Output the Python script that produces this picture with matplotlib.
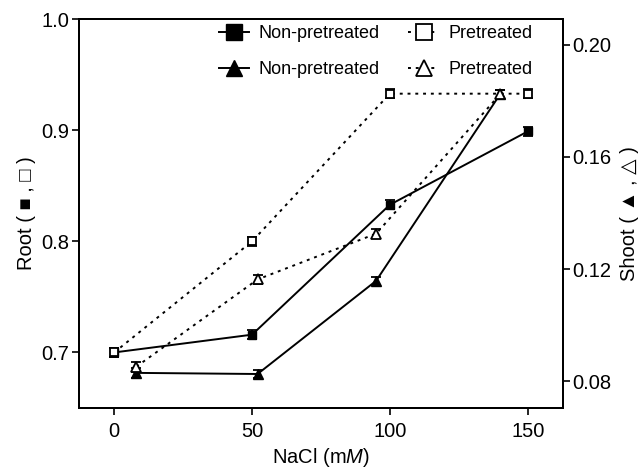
import matplotlib
matplotlib.use('Agg')
import matplotlib.pyplot as plt
from matplotlib.lines import Line2D

plt.rcParams['font.family'] = ['Liberation Sans', 'DejaVu Sans']
plt.rcParams['mathtext.fontset'] = 'custom'
plt.rcParams['mathtext.rm'] = 'Liberation Sans'
plt.rcParams['mathtext.it'] = 'Liberation Sans:italic'

# root data (left axis)
root_x = [0, 50, 100, 150]
root_non = [0.700, 0.716, 0.833, 0.899]
root_pre = [0.700, 0.800, 0.933, 0.933]
root_err = [0.004, 0.004, 0.004, 0.004]

# shoot data (right axis)
shoot_x = [8, 52, 95, 140]
shoot_non = [0.0830, 0.0826, 0.1158, 0.1823]
shoot_pre = [0.0852, 0.1163, 0.1326, 0.1823]
shoot_err = [0.0018, 0.0015, 0.0015, 0.0015]

dot = (0, (1.5, 2.5))

fig = plt.figure(figsize=(6.42, 4.70), dpi=100)
ax = fig.add_axes([0.123, 0.132, 0.7535, 0.827])
ax2 = ax.twinx()

ax.errorbar(root_x, root_non, yerr=root_err, color='black', lw=1.4, marker='s', ms=6,
            mfc='black', mec='black', capsize=3.5, elinewidth=1.3, capthick=1.3, zorder=3)
ax.errorbar(root_x, root_pre, yerr=root_err, color='black', lw=1.4, ls=dot, marker='s', ms=6,
            mfc='white', mec='black', mew=1.3, capsize=3.5, elinewidth=1.3, capthick=1.3, zorder=3)

ax2.errorbar(shoot_x, shoot_non, yerr=shoot_err, color='black', lw=1.4, marker='^', ms=7,
             mfc='black', mec='black', capsize=3.5, elinewidth=1.3, capthick=1.3, zorder=3)
ax2.errorbar(shoot_x, shoot_pre, yerr=shoot_err, color='black', lw=1.4, ls=dot, marker='^', ms=7,
             mfc='white', mec='black', mew=1.3, capsize=3.5, elinewidth=1.3, capthick=1.3, zorder=3)

ax.set_xlim(-12.8, 162.7)
ax.set_ylim(0.65, 1.0)
ax2.set_ylim(0.0705, 0.209)

ax.set_xticks([0, 50, 100, 150])
ax.set_yticks([0.7, 0.8, 0.9, 1.0])
ax.set_yticklabels(['0.7', '0.8', '0.9', '1.0'])
ax2.set_yticks([0.08, 0.12, 0.16, 0.20])
ax2.set_yticklabels(['0.08', '0.12', '0.16', '0.20'])

for a in (ax, ax2):
    a.tick_params(direction='out', length=5, width=1.2, labelsize=14.5, pad=2)
    for s in a.spines.values():
        s.set_linewidth(1.4)
ax.tick_params(axis='x', pad=5)

ax.set_xlabel('NaCl (m$\\it{M}$)', fontsize=14.5, labelpad=4)
ax.set_ylabel('Root ( \u25a0 , \u25a1 )', fontsize=14.5, labelpad=4)
ax2.set_ylabel('Shoot ( \u25b2 , \u25b3 )', fontsize=14.5, labelpad=6)

handles = [
    Line2D([], [], color='black', lw=1.4, marker='s', ms=11, mfc='black'),
    Line2D([], [], color='black', lw=1.4, marker='^', ms=12, mfc='black'),
    Line2D([], [], color='black', lw=1.4, ls=dot, marker='s', ms=11, mfc='white', mew=1.3),
    Line2D([], [], color='black', lw=1.4, ls=dot, marker='^', ms=12, mfc='white', mew=1.3),
]
labels = ['Non-pretreated', 'Non-pretreated', 'Pretreated', 'Pretreated']
ax2.legend(handles, labels, ncol=2, frameon=False, fontsize=13, loc='upper right',
           bbox_to_anchor=(0.963, 1.017), handlelength=1.7, handletextpad=0.5,
           columnspacing=1.6, labelspacing=1.05, borderaxespad=0.3)

fig.savefig('out.png', dpi=100)
